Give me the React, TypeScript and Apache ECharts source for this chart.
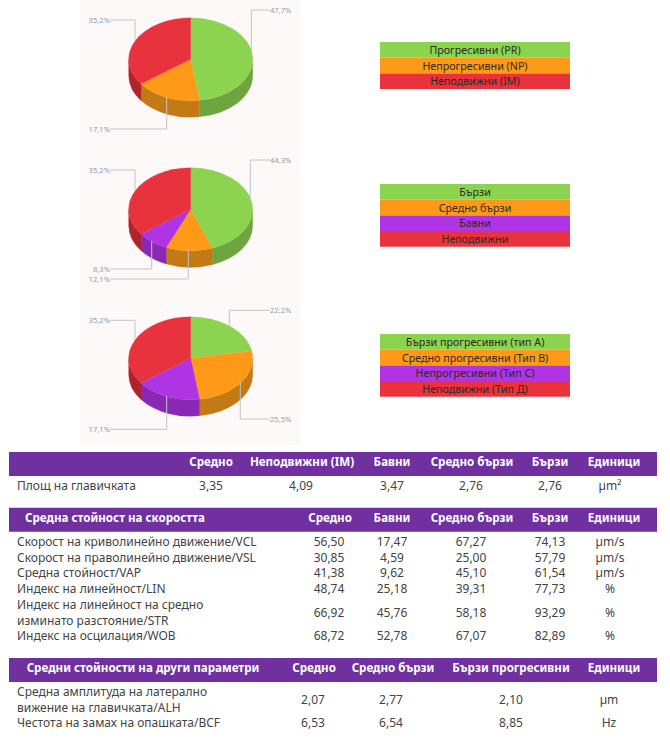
import React, { useEffect, useRef } from "react";
import * as echarts from "echarts";

const GREEN = "#8cd450";
const ORANGE = "#ff9a18";
const PURPLE = "#ae34e4";
const RED = "#e8323e";
const SIDE: Record<string, string> = { [GREEN]: "#6ea53f", [ORANGE]: "#c47a14", [PURPLE]: "#8a28b4", [RED]: "#b0222c" };

// Pie data
const pie1Values = [47.7, 17.1, 35.2];
const pie2Values = [44.3, 12.1, 8.3, 35.2];
const pie3Values = [22.2, 25.5, 17.1, 35.2];
const pie1Colors = [GREEN, ORANGE, RED];
const pie2Colors = [GREEN, ORANGE, PURPLE, RED];
const pie3Colors = [GREEN, ORANGE, PURPLE, RED];
const legend1 = ["Прогресивни (PR)", "Непрогресивни (NP)", "Неподвижни (IM)"];
const legend2 = ["Бързи", "Средно бързи", "Бавни", "Неподвижни"];
const legend3 = ["Бързи прогресивни (тип А)", "Средно прогресивни (Тип В)", "Непрогресивни (Тип С)", "Неподвижни (Тип Д)"];

// Table data
const headers1 = ["", "Средно", "Неподвижни (IM)", "Бавни", "Средно бързи", "Бързи", "Единици"];
const rows1 = [{ name: ["Площ на главичката"], vals: ["3,35", "4,09", "3,47", "2,76", "2,76", "µm²"] }];
const headers2 = ["Средна стойност на скоростта", "Средно", "Бавни", "Средно бързи", "Бързи", "Единици"];
const rows2 = [
  { name: ["Скорост на криволинейно движение/VCL"], vals: ["56,50", "17,47", "67,27", "74,13", "µm/s"] },
  { name: ["Скорост на праволинейно движение/VSL"], vals: ["30,85", "4,59", "25,00", "57,79", "µm/s"] },
  { name: ["Средна стойност/VAP"], vals: ["41,38", "9,62", "45,10", "61,54", "µm/s"] },
  { name: ["Индекс на линейност/LIN"], vals: ["48,74", "25,18", "39,31", "77,73", "%"] },
  { name: ["Индекс на линейност на средно", "изминато разстояние/STR"], vals: ["66,92", "45,76", "58,18", "93,29", "%"] },
  { name: ["Индекс на осцилация/WOB"], vals: ["68,72", "52,78", "67,07", "82,89", "%"] },
];
const headers3 = ["Средни стойности на други параметри", "Средно", "Средно бързи", "Бързи прогресивни", "Единици"];
const rows3 = [
  { name: ["Средна амплитуда на латерално", "вижение на главичката/ALH"], vals: ["2,07", "2,77", "2,10", "µm"] },
  { name: ["Честота на замах на опашката/BCF"], vals: ["6,53", "6,54", "8,85", "Hz"] },
];

// Layout
const FONT = "'Noto Sans', sans-serif";
const CX = 190.7;
const RX = 62;
const RY = 41.5;
const DEPTH = 16.5;
type Pt = [number, number];
const pieLayouts: { cy: number; leaders: Pt[][] }[] = [
  {
    cy: 59.3,
    leaders: [
      [[251.3, 50], [251.3, 10], [270, 10]],
      [[166.7, 97], [166.7, 129], [110, 129]],
      [[135, 40], [135, 20], [110, 20]],
    ],
  },
  {
    cy: 209.3,
    leaders: [
      [[250.3, 201], [250.3, 160], [270, 160]],
      [[188.3, 250], [188.3, 279], [110, 279]],
      [[151.7, 241], [151.7, 269], [110, 269]],
      [[135, 190], [135, 170], [110, 170]],
    ],
  },
  {
    cy: 358.3,
    leaders: [
      [[229.3, 327], [229.3, 310.3], [270, 310.3]],
      [[240.3, 382], [240.3, 419], [270, 419]],
      [[166.7, 396], [166.7, 429.3], [110, 429.3]],
      [[135, 340], [135, 320.3], [110, 320.3]],
    ],
  },
];

function ellipsePt(cy: number, deg: number, dy = 0): Pt {
  const t = (deg * Math.PI) / 180;
  return [CX + RX * Math.sin(t), cy - RY * Math.cos(t) + dy];
}

function pieSeries(values: number[], colors: string[], layout: { cy: number; leaders: Pt[][] }) {
  const total = values.reduce((a, b) => a + b, 0);
  const { cy, leaders } = layout;
  return {
    type: "custom",
    coordinateSystem: "none",
    silent: true,
    z: 5,
    data: values.map((v) => [v]),
    renderItem: (params: any, api: any) => {
      const i = params.dataIndex;
      const before = values.slice(0, i).reduce((a, b) => a + b, 0);
      const a0 = (before / total) * 360;
      const a1 = ((before + api.value(0)) / total) * 360;
      const col = colors[i];
      const children: any[] = [];
      const s0 = Math.max(a0, 90);
      const s1 = Math.min(a1, 270);
      if (s1 > s0) {
        const p = ellipsePt(cy, s0);
        const q = ellipsePt(cy, s1);
        const large = s1 - s0 > 180 ? 1 : 0;
        children.push({
          type: "path",
          shape: {
            pathData: `M${p[0]} ${p[1]}A${RX} ${RY} 0 ${large} 1 ${q[0]} ${q[1]}L${q[0]} ${q[1] + DEPTH}A${RX} ${RY} 0 ${large} 0 ${p[0]} ${p[1] + DEPTH}Z`,
          },
          style: { fill: SIDE[col], stroke: SIDE[col], lineWidth: 0.3 },
        });
      }
      const p = ellipsePt(cy, a0);
      const q = ellipsePt(cy, a1);
      const large = a1 - a0 > 180 ? 1 : 0;
      children.push({
        type: "path",
        shape: {
          pathData: `M${CX} ${cy}L${p[0]} ${p[1]}A${RX} ${RY} 0 ${large} 1 ${q[0]} ${q[1]}Z`,
        },
        style: { fill: col, stroke: col, lineWidth: 0.3 },
      });
      const pts = leaders[i];
      children.push({
        type: "polyline",
        shape: { points: pts },
        style: { fill: "none", stroke: "#c4c4c4", lineWidth: 1 },
      });
      const end = pts[pts.length - 1];
      const prev = pts[pts.length - 2];
      const right = end[0] > prev[0];
      children.push({
        type: "text",
        style: {
          x: end[0],
          y: end[1],
          text: api.value(0).toFixed(1).replace(".", ",") + "%",
          fill: api.value(0) === 35.2 ? "#8c9ab4" : "#999999",
          font: `7.6px ${FONT}`,
          align: right ? "left" : "right",
          verticalAlign: "middle",
        },
      });
      return { type: "group", children };
    },
  };
}

function txt(x: number, y: number, text: string, opts: any = {}) {
  return {
    type: "text",
    z: 10,
    style: {
      x,
      y,
      text,
      fill: opts.fill ?? "#444444",
      font: `${opts.bold ? "bold " : ""}${opts.size ?? 12}px ${opts.family ?? FONT}`,
      align: opts.align ?? "center",
      verticalAlign: "middle",
    },
  };
}

function legend(labels: string[], colors: string[], top: number) {
  const h = 15.7;
  const out: any[] = [];
  labels.forEach((l, i) => {
    out.push({ type: "rect", z: 8, shape: { x: 380, y: top + i * h, width: 190, height: h }, style: { fill: colors[i] } });
    out.push(txt(475, top + i * h + h / 2, l, { size: 10.7, fill: "#2c2c20" }));
  });
  return out;
}

function table(
  headers: string[], headX: number[], top: number,
  rows: { name: string[]; vals: string[] }[], valX: number[], rowYs: number[],
) {
  const out: any[] = [];
  out.push({ type: "rect", z: 8, shape: { x: 9, y: top, width: 648, height: 24 }, style: { fill: "#7030a0" } });
  headers.forEach((h, i) => {
    if (h) out.push(txt(headX[i], top + 9.3, h, { bold: true, fill: "#ffffff", size: 11.6 }));
  });
  rows.forEach((r, i) => {
    const y = rowYs[i];
    if (r.name.length === 2) {
      out.push(txt(17, y - 8, r.name[0], { align: "left" }));
      out.push(txt(17, y + 8, r.name[1], { align: "left" }));
    } else {
      out.push(txt(17, y, r.name[0], { align: "left" }));
    }
    r.vals.forEach((v, j) => out.push(txt(valX[j], y, v)));
  });
  return out;
}

export default function App() {
  const ref = useRef<HTMLDivElement>(null);
  useEffect(() => {
    document.body.style.margin = "0";
    const chart = echarts.init(ref.current!, undefined, { renderer: "svg" });
    chart.setOption({
      animation: false,
      backgroundColor: "#ffffff",
      graphic: [
        { type: "rect", z: 0, shape: { x: 80, y: 0, width: 221, height: 445 }, style: { fill: "#fdf9f9" } },
        ...legend(legend1, pie1Colors, 42),
        ...legend(legend2, pie2Colors, 184),
        ...legend(legend3, pie3Colors, 334),
        ...table(headers1, [0, 211, 302, 392, 472, 550, 614], 452, rows1, [211, 301, 392, 471, 550, 610], [485.7]),
        ...table(headers2, [115, 330, 392, 472, 550, 614], 507.7, rows2, [329, 392, 471, 550, 610], [541.5, 557.2, 572.9, 588.6, 612, 635.7]),
        ...table(headers3, [143, 314, 393, 511, 614], 658, rows3, [313, 391, 511, 609], [699, 722.7]),
      ],
      series: [
        pieSeries(pie1Values, pie1Colors, pieLayouts[0]),
        pieSeries(pie2Values, pie2Colors, pieLayouts[1]),
        pieSeries(pie3Values, pie3Colors, pieLayouts[2]),
      ],
    });
    return () => chart.dispose();
  }, []);
  return <div ref={ref} style={{ width: 670, height: 739 }} />;
}
